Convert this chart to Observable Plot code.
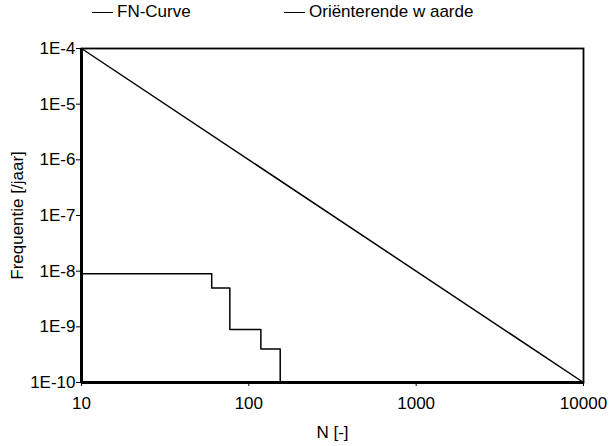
<!DOCTYPE html>
<html><head><meta charset="utf-8">
<script src="https://cdn.jsdelivr.net/npm/d3@7"></script>
<script src="https://cdn.jsdelivr.net/npm/@observablehq/plot@0.6"></script>
<style>
body{margin:0;background:#fff;font-family:"Liberation Sans",Arial,sans-serif;color:#000;}
#legend{height:30px;position:relative;font-size:17px;}
#legend .item{position:absolute;top:2px;display:flex;align-items:center;white-space:nowrap;}
#legend .sw{display:inline-block;width:21px;height:0;border-top:1.5px solid #000;margin-right:4px;}
</style></head><body>
<div id="legend"></div>
<div id="chart"></div>
<script>
const seriesNames = ["FN-Curve", "Oriënterende w aarde"];
const fnN = [10, 60, 77, 118, 154];
const fnF = [9e-9, 5e-9, 9e-10, 4e-10, 1e-10];
const refN = [10, 10000];
const refF = [1e-4, 1e-10];
const xTicks = [10, 100, 1000, 10000];
const yTicks = [1e-4, 1e-5, 1e-6, 1e-7, 1e-8, 1e-9, 1e-10];
const yTickLabels = ["1E-4", "1E-5", "1E-6", "1E-7", "1E-8", "1E-9", "1E-10"];

const fnData = fnN.map((n, i) => ({n, f: fnF[i]}));
const refData = refN.map((n, i) => ({n, f: refF[i]}));

const legend = document.getElementById("legend");
const legendX = [92, 284];
seriesNames.forEach((name, i) => {
  const d = document.createElement("div");
  d.className = "item";
  d.style.left = legendX[i] + "px";
  d.innerHTML = `<span class="sw"></span><span>${name}</span>`;
  legend.appendChild(d);
});

const yLabel = d => yTickLabels[yTicks.findIndex(t => Math.abs(Math.log10(t) - Math.log10(d)) < 1e-6)];

const chart = Plot.plot({
  width: 616,
  height: 416,
  marginLeft: 81,
  marginRight: 33,
  marginTop: 18,
  marginBottom: 64,
  style: {fontFamily: "Liberation Sans, Arial, sans-serif", fontSize: "17px", background: "#fff", color: "#000"},
  x: {type: "log", domain: [10, 10000]},
  y: {type: "log", domain: [1e-10, 1e-4]},
  marks: [
    Plot.frame({stroke: "#000", strokeWidth: 1.8}),
    Plot.ruleX([10], {stroke: "#000", strokeWidth: 3}),
    Plot.ruleY([1e-10], {stroke: "#000", strokeWidth: 3}),
    Plot.axisY({ticks: yTicks, tickFormat: yLabel, tickSize: 5, tickPadding: 1, fontSize: 17, label: "Frequentie [/jaar]", labelAnchor: "center", labelArrow: "none", labelOffset: 71}),
    Plot.axisX({ticks: xTicks, tickFormat: d => String(d), tickSize: 4, tickPadding: 10, fontSize: 17, label: "N [-]", labelAnchor: "center", labelArrow: "none", labelOffset: 55}),
    Plot.line(refData, {x: "n", y: "f", stroke: "#000", strokeWidth: 1.5}),
    Plot.line(fnData, {x: "n", y: "f", curve: "step-after", stroke: "#000", strokeWidth: 1.5})
  ]
});
document.getElementById("chart").appendChild(chart);
</script>
</body></html>
